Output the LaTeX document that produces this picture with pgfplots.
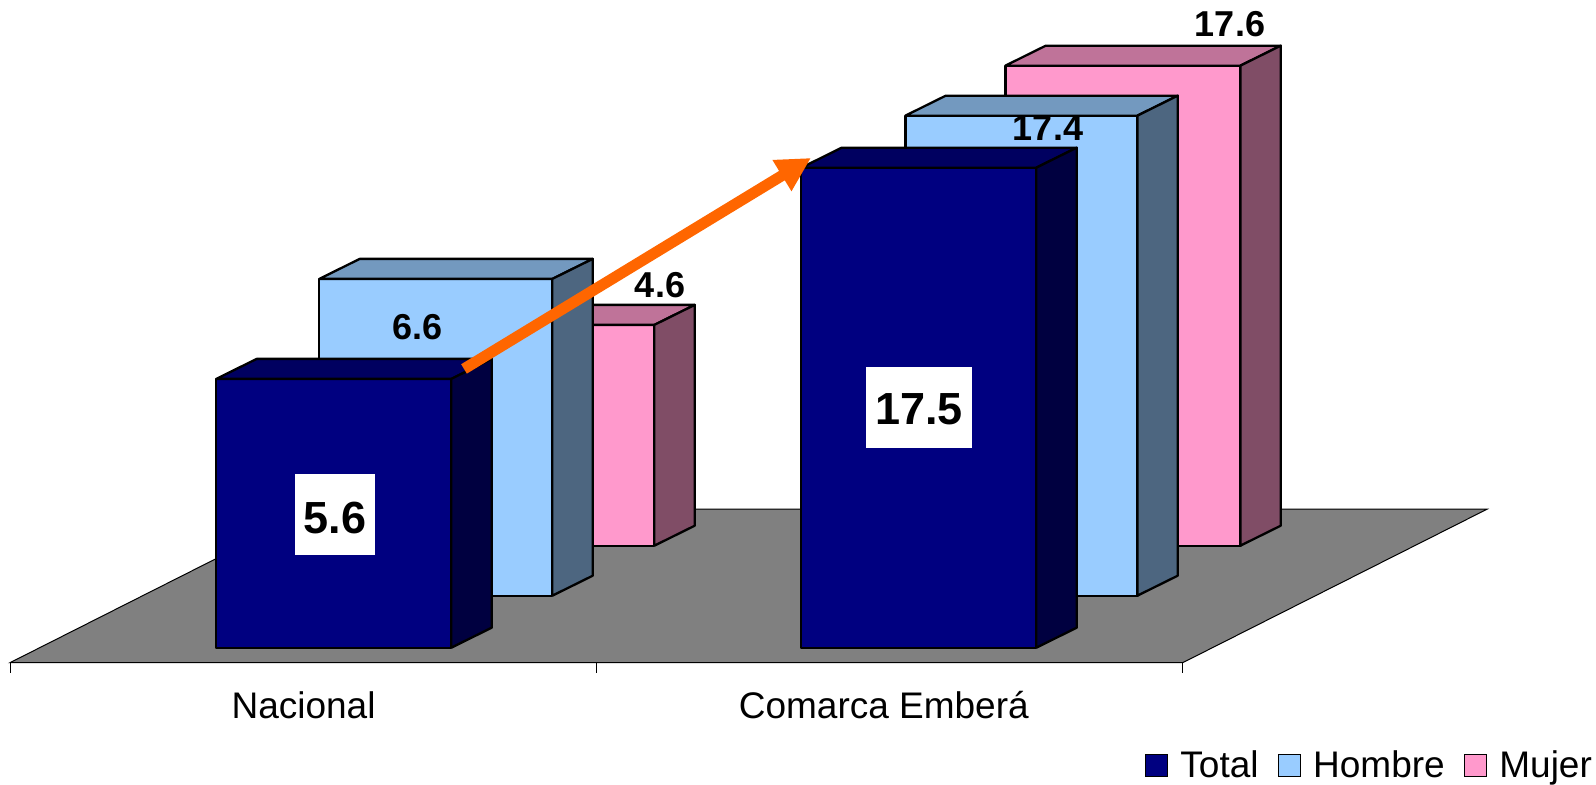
\documentclass[border=0pt]{standalone}
\usepackage{fontspec}
\setmainfont{Liberation Sans}
\usepackage{pgfplots}
\pgfplotsset{compat=1.18}
\usetikzlibrary{arrows.meta}
\definecolor{tot}{HTML}{000080}\definecolor{tott}{HTML}{000060}\definecolor{tots}{HTML}{000040}
\definecolor{hom}{HTML}{99CCFF}\definecolor{homt}{HTML}{7399BF}\definecolor{homs}{HTML}{4D6680}
\definecolor{muj}{HTML}{FF99CC}\definecolor{mujt}{HTML}{BF7399}\definecolor{mujs}{HTML}{804D66}
\definecolor{floorc}{HTML}{808080}
\definecolor{arrowc}{HTML}{FF6600}
% bar: x-left, x-right, depth-front, value, front, top, side colours
\newcommand{\threedbar}[7]{%
  \pgfmathsetmacro\h{min(#4,10)}%
  \pgfmathsetmacro\db{#3+20}%
  \addplot3[forget plot,fill=#5,draw=black,line width=1.15pt,line join=round] coordinates {(#1,#3,0) (#2,#3,0) (#2,#3,\h) (#1,#3,\h)} --cycle;
  \addplot3[forget plot,fill=#6,draw=black,line width=1.15pt,line join=round] coordinates {(#1,#3,\h) (#2,#3,\h) (#2,\db,\h) (#1,\db,\h)} --cycle;
  \addplot3[forget plot,fill=#7,draw=black,line width=1.15pt,line join=round] coordinates {(#2,#3,0) (#2,\db,0) (#2,\db,\h) (#2,#3,\h)} --cycle;
}
\begin{document}
\begin{tikzpicture}
\begin{axis}[
  x={(0.5pt,0pt)}, y={(1.01pt,0.5pt)}, z={(0pt,24pt)},
  xmin=10, xmax=1182.7, ymin=0, ymax=152, zmin=0, zmax=10,
  clip=false,
  axis lines*=left,
  hide y axis, hide z axis,
  axis line style={black,line width=0.5pt},
  xtick={10,596,1182.7},
  x tick label as interval,
  xticklabels={Nacional,\kern-6pt Comarca Emberá},
  major tick length=0pt,
  xticklabel style={font=\fontsize{18.5}{20}\selectfont,text=black,xshift=6.7pt,yshift=-11pt},
  legend columns=-1,
  legend image code/.code={\draw[#1,line width=0.8pt] (0pt,-5.5pt) rectangle (11pt,5.5pt);},
  legend style={draw=none,fill=none,inner sep=0pt,font=\fontsize{18.5}{20}\selectfont,
    at={(1.072,-0.193)},anchor=south east,
    /tikz/every even column/.append style={column sep=7.5pt},
    /tikz/every odd column/.append style={column sep=4pt}},
]
\addplot3[forget plot,fill=floorc,draw=black,line width=0.5pt] coordinates {(10,0,0) (1182.7,0,0) (1177,153.5,0) (4,153.5,0)} --cycle;
% tick marks under the category axis
\addplot3[forget plot,black,line width=0.5pt] coordinates {(10,0,0) (10,0,-0.208)};
\addplot3[forget plot,black,line width=0.5pt] coordinates {(596,0,0) (596,0,-0.208)};
\addplot3[forget plot,black,line width=0.5pt] coordinates {(1182.7,0,0) (1182.7,0,-0.208)};
% Mujer
\threedbar{183}{418}{117}{4.6}{muj}{mujt}{mujs}
\threedbar{769}{1004}{117}{17.6}{muj}{mujt}{mujs}
% Hombre
\threedbar{184}{417}{67}{6.6}{hom}{homt}{homs}
\threedbar{770}{1002}{67}{17.4}{hom}{homt}{homs}
% Total
\threedbar{186}{421}{15}{5.6}{tot}{tott}{tots}
\threedbar{771}{1006}{15}{17.5}{tot}{tott}{tots}
\addlegendimage{fill=tot,draw=black}\addlegendentry{Total}
\addlegendimage{fill=hom,draw=black}\addlegendentry{Hombre}
\addlegendimage{fill=muj,draw=black}\addlegendentry{Mujer}
% arrow
\draw[arrowc,line width=5.5pt,-{Triangle[length=17pt,width=17pt]}] (axis cs:464,0,6.12) -- (axis cs:811,0,10.515);
% labels
\node[font=\fontsize{18}{20}\selectfont\bfseries] at (axis cs:417.3,0,7.0) {6.6};
\node[font=\fontsize{18}{20}\selectfont\bfseries] at (axis cs:660,0,7.858) {4.6};
\node[font=\fontsize{18}{20}\selectfont\bfseries] at (axis cs:1048,0,11.14) {17.4};
\node[font=\fontsize{18}{20}\selectfont\bfseries] at (axis cs:1230,0,13.30) {17.6};
\node[font=\fontsize{22.5}{24}\selectfont\bfseries,fill=white,minimum width=39.8pt,minimum height=40.5pt,inner sep=0pt] at (axis cs:335,0,3.0875) {\raisebox{-9.4pt}[0pt][0pt]{5.6}};
\node[font=\fontsize{22.5}{24}\selectfont\bfseries,fill=white,minimum width=53pt,minimum height=40.5pt,inner sep=0pt] at (axis cs:919,0,5.306) {\raisebox{-8.4pt}[0pt][0pt]{17.5}};
\coordinate (BL) at (axis cs:0,0,-2.548);
\coordinate (TR) at (axis cs:1596,0,13.806);
\end{axis}
\pgfresetboundingbox
\path[use as bounding box] (BL) rectangle (TR);
\end{tikzpicture}
\end{document}
